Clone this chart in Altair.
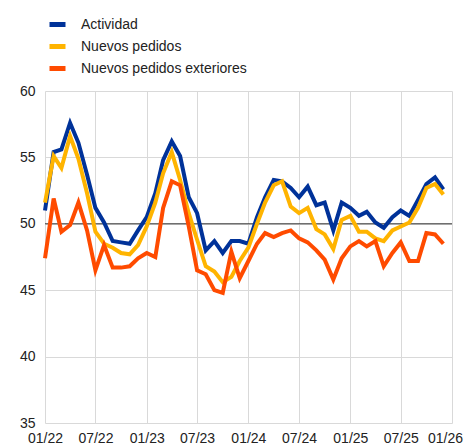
import altair as alt
import pandas as pd

months = pd.date_range("2022-01-01", periods=48, freq="MS").strftime("%Y-%m-%dT00:00:00").tolist()

actividad = [51.0, 55.4, 55.6, 57.6, 56.1, 53.7, 51.2, 50.1, 48.7, 48.6, 48.5, 49.5,
             50.5, 52.3, 54.8, 56.2, 55.1, 52.0, 50.8, 48.0, 48.7, 47.8, 48.7, 48.7,
             48.5, 50.5, 52.0, 53.3, 53.2, 52.7, 52.0, 52.8, 51.4, 51.6, 49.5, 51.6,
             51.2, 50.6, 50.9, 50.1, 49.7, 50.5, 51.0, 50.6, 51.8, 53.0, 53.5, 52.6]
nuevos = [51.6, 55.1, 54.2, 56.6, 54.9, 52.3, 49.4, 48.5, 48.2, 47.8, 47.7, 48.4,
          49.8, 51.6, 53.8, 55.4, 53.3, 50.8, 48.8, 46.8, 46.4, 45.6, 46.0, 47.2,
          48.2, 50.0, 51.6, 52.9, 53.2, 51.3, 50.8, 51.2, 49.6, 49.2, 48.1, 50.3,
          50.6, 49.4, 49.4, 48.9, 48.7, 49.5, 49.8, 50.1, 51.2, 52.7, 53.0, 52.2]
exteriores = [47.4, 51.9, 49.4, 49.9, 51.6, 49.5, 46.5, 48.4, 46.7, 46.7, 46.8, 47.4,
              47.8, 47.5, 51.2, 53.2, 52.9, 49.8, 46.5, 46.2, 45.0, 44.8, 47.9, 45.9,
              47.2, 48.5, 49.3, 49.0, 49.3, 49.5, 48.9, 48.6, 48.0, 47.3, 45.8, 47.4,
              48.3, 48.7, 48.3, 48.7, 46.8, 47.8, 48.6, 47.2, 47.2, 49.3, 49.2, 48.5]

series_names = ["Actividad", "Nuevos pedidos", "Nuevos pedidos exteriores"]
series_colors = ["#003299", "#FFB400", "#FF4B00"]
y_ticks = [35, 40, 45, 50, 55, 60]
x_ticks = ["2022-01", "2022-07", "2023-01", "2023-07", "2024-01", "2024-07",
           "2025-01", "2025-07", "2026-01"]

rows = []
for name, vals in zip(series_names, [actividad, nuevos, exteriores]):
    for m, v in zip(months, vals):
        rows.append({"fecha": m, "serie": name, "valor": v})
df = pd.DataFrame(rows)

x_vals = [alt.DateTime(year=int(t[:4]), month=int(t[5:]), date=1) for t in x_ticks]

x_enc = alt.X(
    "fecha:T",
    scale=alt.Scale(domain=[alt.DateTime(year=2022, month=1, date=1),
                            alt.DateTime(year=2026, month=1, date=1)]),
    axis=alt.Axis(values=x_vals, format="%m/%y", title=None, ticks=False,
                  domain=False, grid=True, gridColor="#d9d9d9", labelFontSize=14,
                  labelColor="#222", labelPadding=8, labelFont="Liberation Sans",
                  labelFlush=False,
                  labelOffset={"expr": "datum.index >= 1 ? -7 : 0"}),
)
y_enc = alt.Y(
    "valor:Q",
    scale=alt.Scale(domain=[35, 60], nice=False, zero=False),
    axis=alt.Axis(values=y_ticks, title=None, ticks=False, domain=False,
                  grid=True, gridColor="#d9d9d9", labelFontSize=14,
                  labelColor="#222", labelPadding=10, labelFont="Liberation Sans"),
)
color_enc = alt.Color(
    "serie:N",
    scale=alt.Scale(domain=series_names, range=series_colors),
    legend=alt.Legend(title=None, orient="none", legendX=2, legendY=-77,
                      symbolType="stroke", symbolStrokeWidth=5, symbolSize=256,
                      labelFontSize=14, labelColor="#222", labelFont="Liberation Sans",
                      labelOffset=13, rowPadding=1, labelLimit=400),
)

rule = alt.Chart(pd.DataFrame({"y": [50]})).mark_rule(color="#333", strokeWidth=1).encode(
    y=alt.Y("y:Q", scale=alt.Scale(domain=[35, 60], nice=False, zero=False))
)

layers = [rule]
for name in series_names:
    layers.append(
        alt.Chart(df[df["serie"] == name]).mark_line(strokeWidth=4, strokeJoin="miter")
        .encode(x=x_enc, y=y_enc, color=color_enc)
    )

chart = alt.layer(*layers).properties(
    width=407, height=332,
    autosize=alt.AutoSizeParams(type="none"),
    padding={"left": 37, "top": 83, "right": 12, "bottom": 25},
).configure_view(stroke="transparent")

chart.save("out.html", embed_options={"renderer": "svg", "actions": False})
